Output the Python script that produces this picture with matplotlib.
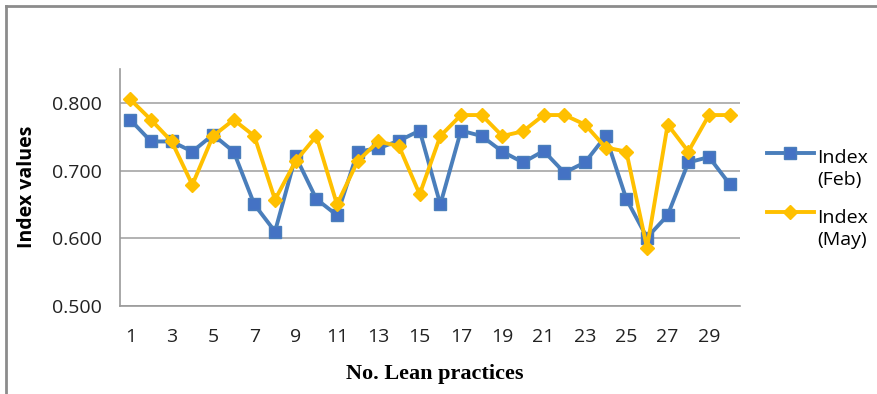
import matplotlib
matplotlib.use("Agg")
import numpy as np
import matplotlib.pyplot as plt
from matplotlib.lines import Line2D
from matplotlib.legend_handler import HandlerLine2D

practices = list(range(1, 31))
index_feb = [0.775, 0.743, 0.743, 0.728, 0.753, 0.728, 0.650, 0.610, 0.721, 0.658,
             0.634, 0.728, 0.733, 0.744, 0.759, 0.650, 0.759, 0.751, 0.728, 0.712,
             0.729, 0.697, 0.712, 0.751, 0.658, 0.601, 0.634, 0.712, 0.720, 0.680]
index_may = [0.805, 0.775, 0.743, 0.679, 0.751, 0.775, 0.751, 0.657, 0.714, 0.751,
             0.650, 0.714, 0.743, 0.736, 0.665, 0.751, 0.782, 0.782, 0.751, 0.758,
             0.782, 0.782, 0.768, 0.734, 0.728, 0.586, 0.768, 0.728, 0.782, 0.782]
x_ticks = list(range(1, 31, 2))
y_ticks = [0.5, 0.6, 0.7, 0.8]
y_ticklabels = ["0.500", "0.600", "0.700", "0.800"]
series_names = ["Index\n(Feb)", "Index\n(May)"]

SANS = ["Open Sans", "DejaVu Sans"]
W, H = 878, 394
fig = plt.figure(figsize=(W / 100, H / 100), dpi=100)
ax = fig.add_axes([120 / W, 1 - 306 / H, (740 - 120) / W, (306 - 69) / H])

blue = "#4472C4"
blue_line = "#4A7EBB"
gold = "#FFC000"

ax.plot(practices, index_feb, color=blue_line, lw=2.8, marker="s", ms=8.5,
        mfc=blue, mec=blue_line, mew=1, label=series_names[0], zorder=3)
ax.plot(practices, index_may, color=gold, lw=2.8, marker="D", ms=7.5,
        mfc=gold, mec=gold, label=series_names[1], zorder=4)

ax.set_xlim(0.5, 30.5)
ax.set_ylim(0.5, 0.85)
ax.set_xticks(x_ticks)
ax.set_xticklabels([str(t) for t in x_ticks])
ax.set_yticks(y_ticks)
ax.set_yticklabels(y_ticklabels)
ax.tick_params(axis="both", length=0, labelsize=14, colors="#222222")
ax.tick_params(axis="x", pad=16)
ax.tick_params(axis="y", pad=13)
for lab in ax.get_xticklabels() + ax.get_yticklabels():
    lab.set_family(SANS)
ax.grid(axis="y", color="#A6A6A6", lw=1.2)
ax.set_axisbelow(True)
for s in ["top", "right"]:
    ax.spines[s].set_visible(False)
for s in ["left", "bottom"]:
    ax.spines[s].set_color("#9A9A9A")
    ax.spines[s].set_linewidth(1.2)

fig.text(27 / W, 1 - 187 / H, "Index values", rotation=90, ha="center", va="center",
         fontsize=14, fontweight="bold", family=SANS)
fig.text(435 / W, 1 - 374 / H, "No. Lean practices", ha="center", va="center",
         fontsize=16, fontweight="bold", family=["Liberation Serif", "DejaVu Serif"])


class TopLineHandler(HandlerLine2D):
    def create_artists(self, legend, orig_handle, xdescent, ydescent, width, height,
                       fontsize, trans):
        artists = super().create_artists(legend, orig_handle, xdescent, ydescent,
                                         width, height, fontsize, trans)
        for a in artists:
            a.set_ydata(np.asarray(a.get_ydata(), dtype=float) + 0.85 * fontsize)
        return artists


leg = ax.legend(loc="center left", bbox_to_anchor=(767 / W, 1 - 199 / H),
                bbox_transform=fig.transFigure, frameon=False,
                handlelength=2.4, labelspacing=1.0, handletextpad=0.2,
                borderpad=0, borderaxespad=0,
                prop={"family": SANS, "size": 14},
                handler_map={Line2D: TopLineHandler()})
for t in leg.get_texts():
    t.set_linespacing(1.3)

fig.add_artist(Line2D([6 / W, 1], [1 - 6 / H, 1 - 6 / H], color="#8C8C8C", lw=2,
                      transform=fig.transFigure))
fig.add_artist(Line2D([6 / W, 6 / W], [0, 1 - 6 / H], color="#8C8C8C", lw=2,
                      transform=fig.transFigure))

fig.savefig("out.png", dpi=100)
